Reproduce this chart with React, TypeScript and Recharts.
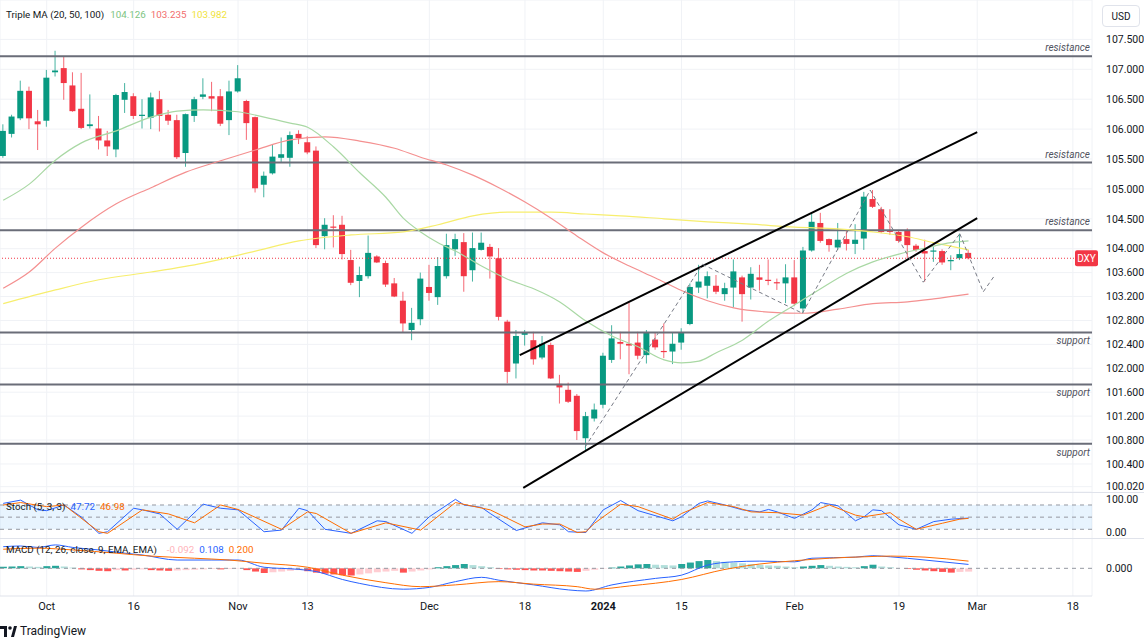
import React from 'react';
import {
  ComposedChart, Bar, Line, XAxis, YAxis, CartesianGrid, ReferenceLine, ReferenceArea, Cell,
} from 'recharts';

// daily DXY candles, Sep 25 2023 .. Feb 29 2024 (bar index 0..111)
const opens = [
  105.55, 105.92, 106.18, 106.64, 106.13, 106.14, 106.95, 107.02, 106.73, 106.34,
  106.05, 106.01, 105.81, 105.66, 106.49, 106.55, 106.22, 106.19, 106.50, 106.24,
  106.15, 105.60, 106.22, 106.54, 106.55, 106.55, 106.15, 106.63, 106.47, 106.20,
  105.07, 105.26, 105.52, 105.52, 105.92, 105.78, 105.64, 104.21, 104.37, 104.40,
  103.81, 103.46, 103.54, 103.87, 103.76, 103.42, 103.13, 102.64, 102.82, 103.36,
  103.19, 103.54, 103.99, 104.11, 103.64, 103.98, 104.03, 103.84, 102.78, 102.08,
  102.56, 102.47, 102.18, 102.39, 101.74, 101.64, 101.54, 100.83, 101.16, 101.39,
  102.14, 102.44, 102.41, 102.43, 102.22, 102.48, 102.29, 102.28, 102.43, 102.74,
  103.35, 103.38, 103.38, 103.24, 103.35, 103.52, 103.35, 103.52, 103.48, 103.44,
  103.42, 103.52, 103.00, 103.97, 104.43, 104.16, 104.02, 104.16, 104.08, 104.17,
  104.83, 104.66, 104.31, 104.28, 104.31, 104.05, 103.96, 103.95, 103.96, 103.79,
  103.84, 103.93,
];
const highs = [
  106.08, 106.24, 106.81, 106.71, 106.32, 106.99, 107.31, 107.21, 106.95, 106.94,
  106.58, 106.22, 105.97, 106.59, 106.77, 106.60, 106.50, 106.61, 106.64, 106.32,
  106.24, 106.26, 106.54, 106.85, 106.79, 106.67, 106.81, 107.07, 106.49, 106.21,
  105.29, 105.75, 105.86, 105.96, 105.98, 105.88, 105.71, 104.51, 104.56, 104.55,
  103.98, 103.70, 104.22, 103.89, 103.80, 103.51, 103.28, 103.01, 103.60, 103.73,
  103.86, 104.25, 104.25, 104.26, 104.27, 104.27, 104.08, 104.01, 102.81, 102.64,
  102.64, 102.61, 102.54, 102.43, 101.89, 101.76, 101.57, 101.27, 101.41, 102.26,
  102.72, 102.61, 103.10, 102.61, 102.64, 102.59, 102.75, 102.59, 102.67, 103.42,
  103.73, 103.62, 103.56, 103.43, 103.82, 103.55, 103.69, 103.73, 103.82, 103.50,
  103.74, 103.81, 104.03, 104.59, 104.60, 104.17, 104.43, 104.31, 104.41, 104.95,
  104.98, 104.70, 104.66, 104.31, 104.34, 104.08, 104.15, 104.03, 103.99, 103.89,
  104.25, 103.98,
];
const lows = [
  105.52, 105.86, 106.15, 106.00, 105.65, 106.04, 106.88, 106.49, 106.29, 106.00,
  106.01, 105.66, 105.55, 105.53, 106.27, 106.17, 106.01, 106.00, 105.96, 106.07,
  105.50, 105.37, 106.12, 106.50, 106.30, 106.05, 105.90, 106.61, 105.82, 104.94,
  104.86, 105.24, 105.45, 105.37, 105.75, 105.58, 104.01, 103.99, 104.02, 103.82,
  103.39, 103.19, 103.50, 103.76, 103.36, 103.19, 102.60, 102.47, 102.72, 103.13,
  103.06, 103.50, 103.88, 103.28, 103.45, 103.97, 103.50, 102.80, 101.75, 101.83,
  102.38, 102.06, 102.15, 101.82, 101.41, 101.42, 100.80, 100.61, 101.11, 101.33,
  102.09, 102.15, 101.90, 102.15, 102.08, 102.31, 102.17, 102.07, 102.31, 102.72,
  103.26, 103.17, 103.24, 103.13, 103.02, 102.78, 103.15, 103.30, 103.39, 103.31,
  103.09, 103.04, 102.92, 103.95, 104.10, 103.95, 103.98, 103.97, 103.91, 103.98,
  104.68, 104.26, 104.23, 104.10, 103.84, 103.95, 103.45, 103.78, 103.73, 103.64,
  103.81, 103.82,
];
const closes = [
  105.97, 106.21, 106.64, 106.18, 106.08, 106.86, 106.98, 106.77, 106.30, 106.02,
  106.08, 105.81, 105.71, 106.57, 106.62, 106.22, 106.24, 106.53, 106.22, 106.14,
  105.53, 106.25, 106.50, 106.58, 106.51, 106.09, 106.63, 106.85, 106.10, 105.01,
  105.22, 105.54, 105.58, 105.90, 105.85, 105.61, 104.06, 104.40, 104.35, 103.91,
  103.43, 103.56, 103.93, 103.77, 103.40, 103.20, 102.75, 102.76, 103.50, 103.26,
  103.71, 104.06, 104.16, 103.54, 104.01, 104.10, 103.87, 102.86, 101.94, 102.54,
  102.59, 102.15, 102.41, 101.83, 101.68, 101.44, 100.95, 101.20, 101.31, 102.21,
  102.50, 102.41, 102.38, 102.21, 102.59, 102.35, 102.27, 102.41, 102.60, 103.36,
  103.45, 103.54, 103.28, 103.34, 103.62, 103.24, 103.58, 103.48, 103.46, 103.42,
  103.52, 103.08, 103.97, 104.45, 104.13, 104.06, 104.15, 104.08, 104.15, 104.87,
  104.70, 104.28, 104.28, 104.13, 104.06, 103.98, 103.92, 103.97, 103.77, 103.81,
  103.91, 103.84,
];

// moving averages: [bar index, value]
const ma20Pts = [
  [0, 104.81], [3, 105.08], [6, 105.48], [9, 105.77], [13, 105.97], [17, 106.2], [20, 106.3],
  [23, 106.32], [27, 106.29], [30, 106.2], [33, 106.1], [35, 106.03], [38, 105.7], [41, 105.27],
  [44, 104.86], [46, 104.51], [48, 104.28], [50, 104.1], [52, 103.96], [55, 103.71], [58, 103.49],
  [61, 103.33], [64, 103.11], [67, 102.79], [70, 102.54], [73, 102.36], [76, 102.14], [78, 102.09],
  [80, 102.12], [82, 102.26], [85, 102.47], [88, 102.79], [91, 103.06], [94, 103.33], [97, 103.59],
  [100, 103.78], [103, 103.91], [106, 104.01], [109, 104.1], [111, 104.13],
];
const ma50Pts = [
  [0, 103.34], [3, 103.61], [6, 104.01], [9, 104.36], [13, 104.75], [17, 105.02], [21, 105.28],
  [25, 105.47], [29, 105.65], [33, 105.82], [37, 105.87], [41, 105.8], [45, 105.68], [48, 105.53],
  [51, 105.4], [54, 105.23], [57, 105.02], [60, 104.78], [63, 104.51], [66, 104.21], [69, 103.93],
  [72, 103.71], [75, 103.51], [78, 103.3], [81, 103.13], [84, 103.01], [88, 102.94], [92, 102.92],
  [96, 102.99], [100, 103.08], [104, 103.11], [107, 103.16], [111, 103.24],
];
const ma100Pts = [
  [0, 103.08], [6, 103.31], [11, 103.48], [17, 103.61], [23, 103.76], [29, 103.96], [34, 104.13],
  [40, 104.23], [46, 104.28], [50, 104.4], [54, 104.55], [58, 104.61], [63, 104.61], [67, 104.58],
  [71, 104.55], [76, 104.5], [81, 104.45], [86, 104.41], [91, 104.36], [96, 104.33], [100, 104.28],
  [104, 104.2], [107, 104.1], [111, 103.98],
];

const stochK = [
  [0, 84], [2, 92], [4, 68], [5, 66], [7, 80], [9, 50], [11, 10], [12, 14], [15, 72], [16, 68],
  [18, 58], [20, 20], [23, 82], [25, 72], [27, 68], [30, 14], [32, 18], [34, 72], [35, 66], [37, 20],
  [40, 10], [43, 41], [44, 39], [47, 10], [49, 51], [52, 94], [53, 80], [55, 74], [56, 59], [59, 17],
  [62, 36], [64, 31], [65, 14], [67, 12], [69, 68], [71, 91], [73, 66], [77, 41], [78, 51], [80, 84],
  [81, 90], [83, 80], [85, 68], [87, 63], [88, 69], [89, 63], [91, 47], [93, 68], [94, 86], [96, 78],
  [98, 41], [99, 51], [100, 68], [101, 66], [103, 31], [105, 20], [107, 39], [109, 45], [111, 47.72],
];
const stochD = [
  [0, 80], [2, 86], [5, 76], [7, 80], [11, 14], [12, 10], [16, 68], [19, 58], [22, 36], [25, 80],
  [27, 69], [32, 20], [35, 63], [36, 59], [40, 10], [44, 36], [48, 18], [52, 86], [56, 68], [60, 26],
  [62, 33], [64, 33], [66, 12], [67, 14], [68, 35], [71, 82], [73, 76], [77, 45], [78, 59], [81, 86],
  [84, 76], [86, 63], [89, 61], [92, 55], [94, 72], [95, 80], [98, 55], [99, 51], [102, 61], [103, 45],
  [105, 20], [108, 35], [110, 45], [111, 46.98],
];

const macdPts = [
  [0, 0.6], [2, 0.62], [4, 0.58], [6, 0.65], [8, 0.58], [11, 0.51], [14, 0.42], [16, 0.37], [20, 0.23],
  [24, 0.23], [27, 0.23], [30, 0.03], [34, -0.03], [36, -0.09], [39, -0.31], [41, -0.42], [46, -0.58],
  [49, -0.53], [52, -0.37], [55, -0.25], [57, -0.33], [61, -0.46], [65, -0.6], [67, -0.63], [70, -0.46],
  [75, -0.28], [78, -0.19], [81, 0.09], [84, 0.18], [87, 0.2], [91, 0.18], [93, 0.28], [98, 0.31],
  [100, 0.35], [102, 0.32], [106, 0.23], [111, 0.108],
];
const signalPts = [
  [0, 0.53], [4, 0.56], [8, 0.51], [13, 0.42], [17, 0.34], [22, 0.28], [26, 0.23], [30, 0.14],
  [35, 0.03], [39, -0.19], [44, -0.4], [48, -0.51], [52, -0.46], [57, -0.37], [61, -0.44], [66, -0.51],
  [68, -0.58], [72, -0.49], [78, -0.31], [83, -0.03], [87, 0.12], [91, 0.21], [95, 0.28], [99, 0.32],
  [102, 0.34], [106, 0.31], [111, 0.2],
];
const histogram = [
  0.04, 0.05, 0.06, 0.05, 0.04, 0.06, 0.07, 0.05, 0.02, -0.03,
  -0.05, -0.07, -0.08, -0.05, -0.06, -0.04, -0.03, -0.05, -0.06, -0.07,
  -0.06, -0.05, -0.04, -0.03, -0.02, -0.03, -0.02, -0.01, -0.05, -0.09,
  -0.13, -0.11, -0.09, -0.07, -0.05, -0.08, -0.12, -0.15, -0.17, -0.19,
  -0.2, -0.17, -0.14, -0.11, -0.09, -0.07, -0.12, -0.09, -0.06, -0.03,
  0.03, 0.06, 0.09, 0.12, 0.09, 0.06, 0.03, -0.02, -0.03, -0.04,
  -0.05, -0.06, -0.06, -0.07, -0.08, -0.09, -0.1, -0.07, -0.04, -0.01,
  0.02, 0.05, 0.08, 0.11, 0.12, 0.1, 0.09, 0.08, 0.12, 0.16,
  0.2, 0.23, 0.2, 0.18, 0.16, 0.14, 0.12, 0.1, 0.08, 0.07,
  0.05, 0.03, 0.05, 0.07, 0.09, 0.07, 0.05, 0.04, 0.03, 0.06,
  0.1, 0.05, 0.03, 0.0, -0.02, -0.04, -0.06, -0.08, -0.1, -0.12,
  -0.1, -0.092,
];

const dateTickIdx = [5, 15, 27, 35, 49, 60, 69, 78, 91, 103, 112, 123];
const dateTickLabels = ['Oct', '16', 'Nov', '13', 'Dec', '18', '2024', '15', 'Feb', '19', 'Mar', '18'];
const priceTicks = [107.5, 107, 106.5, 106, 105.5, 105, 104.5, 104, 103.6, 103.2, 102.8, 102.4, 102, 101.6, 101.2, 100.8, 100.4, 100.02];

const resistanceLevels = [107.22, 105.44, 104.31];
const supportLevels = [102.6, 101.73, 100.74];
const lastPrice = 103.84;
const channelUpper = [[59.4, 102.22], [112.0, 105.95]];
const channelLower = [[59.8, 100.0], [112.0, 104.51]];
const zigzag = [
  [66.9, 100.68], [80.4, 103.74], [91.9, 102.92], [99.7, 104.98], [105.8, 103.44],
  [110.0, 104.25], [112.7, 103.28], [113.9, 103.53],
];

const X_DOMAIN: [number, number] = [-0.37, 125.2];
const SLOTS = 126;
const FONT = 'Roboto, "Liberation Sans", sans-serif';
const GRID = '#f0f2f6';

const series = (pts: number[][]) => pts.map(([i, v]) => ({ i, v }));

const rows = Array.from({ length: SLOTS }, (_, i) => {
  const has = i < opens.length;
  return {
    i,
    o: has ? opens[i] : null,
    h: has ? highs[i] : null,
    l: has ? lows[i] : null,
    c: has ? closes[i] : null,
    range: has ? [lows[i], highs[i]] : null,
    hist: has ? histogram[i] : null,
  };
});

const histColor = (i: number) => {
  const v = histogram[i];
  const prev = i > 0 ? histogram[i - 1] : v;
  if (v >= 0) return v >= prev ? '#26a69a' : '#b2dfdb';
  return v <= prev ? '#ff5252' : '#ffcdd2';
};

const Candle = (props: any) => {
  const { x, y, width, height, payload } = props;
  if (!payload || payload.o == null) return null;
  const { o, h, l, c } = payload;
  const top = Math.min(y, y + height);
  const span = Math.abs(height);
  const k = span / (h - l || 1);
  const yO = top + (h - o) * k;
  const yC = top + (h - c) * k;
  const color = c >= o ? '#089981' : '#f23645';
  const cx = x + width / 2;
  return (
    <g>
      <line x1={cx} x2={cx} y1={top} y2={top + span} stroke={color} strokeOpacity={0.75} />
      <rect x={cx - 3} y={Math.min(yO, yC)} width={6} height={Math.max(1, Math.abs(yO - yC))} fill={color} />
    </g>
  );
};

const levelLabel = (text: string, above: boolean) => (props: any) => {
  const vb = props.viewBox;
  return (
    <text x={vb.x + vb.width - 2} y={vb.y + (above ? -5 : 12)} textAnchor="end" fontSize={10}
      fontStyle="italic" fill="#50535e" fontFamily={FONT}>{text}</text>
  );
};

const DxyTag = (props: any) => {
  const vb = props.viewBox;
  const right = vb.x + vb.width + 6;
  return (
    <g>
      <rect x={right - 23} y={vb.y - 8} width={23} height={16} rx={2} fill="#f23645" />
      <text x={right - 11.5} y={vb.y + 4} textAnchor="middle" fontSize={10} fill="#fff" fontFamily={FONT}>DXY</text>
    </g>
  );
};

const DateTick = (props: any) => {
  const { x, y, payload } = props;
  const label = dateTickLabels[dateTickIdx.indexOf(payload.value)];
  return (
    <text x={x} y={y} dy={14} textAnchor="middle" fontSize={11} fill="#131722" fontFamily={FONT}
      fontWeight={label === '2024' ? 700 : 400}>{label}</text>
  );
};

const StochTick = (props: any) => {
  const { x, y, payload } = props;
  return (
    <text x={x} y={y} dy={payload.value === 100 ? 6 : -1} fontSize={10.5} fill="#131722" fontFamily={FONT}>
      {payload.value.toFixed(2)}
    </text>
  );
};

const axisTick = { fontSize: 10.5, fill: '#131722', fontFamily: FONT };
const sep = (top: number) => (
  <div style={{ position: 'absolute', left: 0, top, width: 1144, height: 1, background: '#e0e3eb' }} />
);

const lineProps = { dataKey: 'v', dot: false, activeDot: false, isAnimationActive: false } as const;
const legendStyle = { position: 'absolute', left: 6, fontSize: 9.8, color: '#131722', whiteSpace: 'nowrap' } as const;

export default function App() {
  return (
    <div style={{ position: 'fixed', left: 0, top: 0, width: 1144, height: 642, background: '#fff', fontFamily: FONT, overflow: 'hidden' }}>
      {/* price pane */}
      <div style={{ position: 'absolute', left: 0, top: 0 }}>
        <ComposedChart width={1144} height={492} data={rows} margin={{ top: 0, right: 0, left: 0, bottom: 0 }}>
          <XAxis type="number" dataKey="i" domain={X_DOMAIN} ticks={dateTickIdx} hide allowDataOverflow />
          <YAxis orientation="right" width={52} domain={[99.931, 108.159]} ticks={priceTicks} interval={0}
            allowDataOverflow tickLine={false} axisLine={false} tickMargin={8} tick={axisTick}
            tickFormatter={(v: number) => v.toFixed(3)} />
          <CartesianGrid stroke={GRID} />
          {resistanceLevels.map((v) => (
            <ReferenceLine key={'r' + v} y={v} stroke="#6a6d78" strokeWidth={2} label={levelLabel('resistance', true)} />
          ))}
          {supportLevels.map((v) => (
            <ReferenceLine key={'s' + v} y={v} stroke="#6a6d78" strokeWidth={2} label={levelLabel('support', false)} />
          ))}
          <ReferenceLine y={lastPrice} stroke="#f23645" strokeDasharray="1 2" label={DxyTag} />
          <Line {...lineProps} data={series(ma100Pts)} stroke="#f7ee6e" strokeWidth={1.2} type="monotone" />
          <Line {...lineProps} data={series(ma50Pts)} stroke="#f49090" strokeWidth={1.2} type="monotone" />
          <Line {...lineProps} data={series(ma20Pts)} stroke="#a9d8a4" strokeWidth={1.2} type="monotone" />
          <Bar dataKey="range" barSize={6} shape={Candle} isAnimationActive={false} />
          <ReferenceLine segment={[{ x: channelUpper[0][0], y: channelUpper[0][1] }, { x: channelUpper[1][0], y: channelUpper[1][1] }]}
            stroke="#000" strokeWidth={2} />
          <ReferenceLine segment={[{ x: channelLower[0][0], y: channelLower[0][1] }, { x: channelLower[1][0], y: channelLower[1][1] }]}
            stroke="#000" strokeWidth={2} />
          {zigzag.slice(1).map((p, n) => (
            <ReferenceLine key={'z' + n} segment={[{ x: zigzag[n][0], y: zigzag[n][1] }, { x: p[0], y: p[1] }]}
              stroke="#787b86" strokeWidth={1} strokeDasharray="4 3" />
          ))}
        </ComposedChart>
      </div>

      {/* stochastic pane */}
      <div style={{ position: 'absolute', left: 0, top: 492 }}>
        <ComposedChart width={1144} height={46} data={rows} margin={{ top: 0, right: 0, left: 0, bottom: 0 }}>
          <XAxis type="number" dataKey="i" domain={X_DOMAIN} ticks={dateTickIdx} hide allowDataOverflow />
          <YAxis orientation="right" width={52} domain={[-1.5, 112.1]} ticks={[0, 100]} interval={0} allowDataOverflow
            tickLine={false} axisLine={false} tickMargin={8} tick={StochTick} />
          <CartesianGrid stroke={GRID} horizontal={false} />
          <ReferenceArea y1={20} y2={80} fill="#2196f3" fillOpacity={0.1} stroke="none" />
          {[80, 50, 20].map((v) => (
            <ReferenceLine key={v} y={v} stroke="#9598a1" strokeDasharray="4 4" />
          ))}
          <Line {...lineProps} data={series(stochK)} stroke="#2962ff" strokeWidth={1} />
          <Line {...lineProps} data={series(stochD)} stroke="#ff6d00" strokeWidth={1} />
        </ComposedChart>
      </div>

      {/* MACD pane + date axis */}
      <div style={{ position: 'absolute', left: 0, top: 538 }}>
        <ComposedChart width={1144} height={80} data={rows} margin={{ top: 0, right: 0, left: 0, bottom: 0 }}>
          <XAxis type="number" dataKey="i" domain={X_DOMAIN} ticks={dateTickIdx} interval={0} allowDataOverflow
            height={22} tickSize={0} tickMargin={0} tick={DateTick} stroke="#e0e3eb" />
          <YAxis orientation="right" width={52} domain={[-0.769, 0.842]} ticks={[0]} interval={0} allowDataOverflow
            tickLine={false} axisLine={false} tickMargin={8} tick={axisTick} tickFormatter={(v: number) => v.toFixed(3)} />
          <CartesianGrid stroke={GRID} horizontal={false} />
          <ReferenceLine y={0} stroke="#9598a1" strokeDasharray="4 4" />
          <Bar dataKey="hist" barSize={7} isAnimationActive={false}>
            {rows.map((r) => (
              <Cell key={r.i} fill={r.hist == null ? 'none' : histColor(r.i)} />
            ))}
          </Bar>
          <Line {...lineProps} data={series(macdPts)} stroke="#2962ff" strokeWidth={1} type="monotone" />
          <Line {...lineProps} data={series(signalPts)} stroke="#ff6d00" strokeWidth={1} type="monotone" />
        </ComposedChart>
      </div>

      {sep(492)}
      {sep(538)}

      {/* legends */}
      <div style={{ ...legendStyle, top: 9 }}>
        Triple MA (20, 50, 100)
        <span style={{ color: '#7cc47f', marginLeft: 6 }}>104.126</span>
        <span style={{ color: '#f26d6d', marginLeft: 5 }}>103.235</span>
        <span style={{ color: '#f0e33a', marginLeft: 5 }}>103.982</span>
      </div>
      <div style={{ ...legendStyle, top: 501 }}>
        Stoch (5, 3, 3)
        <span style={{ color: '#2962ff', marginLeft: 5 }}>47.72</span>
        <span style={{ color: '#ff6d00', marginLeft: 5 }}>46.98</span>
      </div>
      <div style={{ ...legendStyle, top: 544 }}>
        MACD (12, 26, close, 9, EMA, EMA)
        <span style={{ color: '#ffb3ba', marginLeft: 10 }}>-0.092</span>
        <span style={{ color: '#2962ff', marginLeft: 5 }}>0.108</span>
        <span style={{ color: '#ff6d00', marginLeft: 5 }}>0.200</span>
      </div>

      {/* currency box */}
      <div style={{ position: 'absolute', left: 1102, top: 5, width: 36, height: 20, border: '1px solid #e0e3eb', borderRadius: 4,
        fontSize: 10, color: '#131722', display: 'flex', alignItems: 'center', justifyContent: 'center' }}>USD</div>

      {/* footer mark */}
      <div style={{ position: 'absolute', left: 0, top: 624, display: 'flex', alignItems: 'center', fontSize: 12, color: '#131722' }}>
        <svg width={17} height={11} style={{ marginRight: 3 }}>
          <rect x={0} y={0} width={7} height={3} fill="#131722" />
          <rect x={4} y={0} width={3} height={11} fill="#131722" />
          <circle cx={10} cy={2} r={1.8} fill="#131722" />
          <polygon points="11,11 14,0 17,0 14,11" fill="#131722" />
        </svg>
        TradingView
      </div>
    </div>
  );
}
